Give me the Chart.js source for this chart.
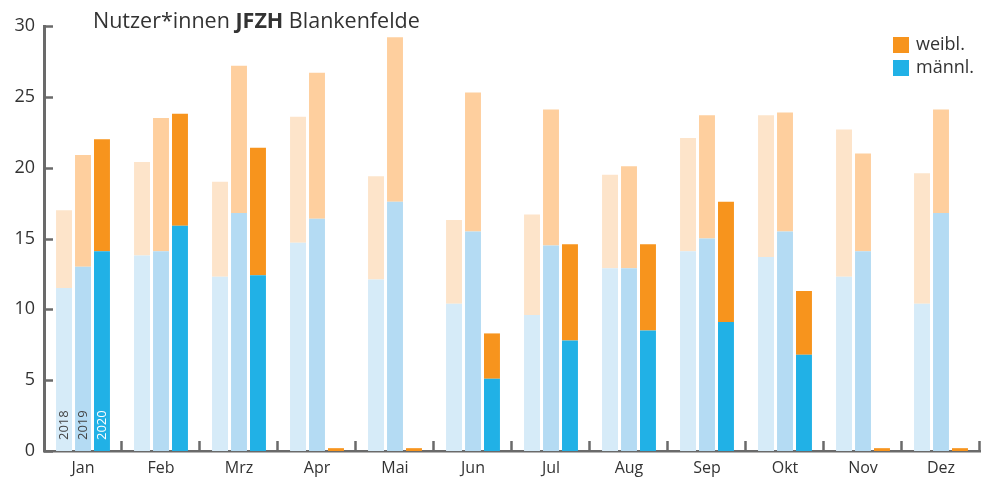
<!DOCTYPE html>
<html><head><meta charset="utf-8">
<script src="https://cdn.jsdelivr.net/npm/chart.js@4"></script>
<style>html,body{margin:0;padding:0;background:#fff}#w{width:982px;height:482px}</style>
</head><body><div id="w"><canvas id="c"></canvas></div>
<script>
const months = ['Jan','Feb','Mrz','Apr','Mai','Jun','Jul','Aug','Sep','Okt','Nov','Dez'];
const years = ['2018','2019','2020'];
const yTicks = [0,5,10,15,20,25,30];
// männlich
const m2018 = [11.5,13.8,12.3,14.7,12.1,10.4,9.6,12.9,14.1,13.7,12.3,10.4];
const m2019 = [13.0,14.1,16.8,16.4,17.6,15.5,14.5,12.9,15.0,15.5,14.1,16.8];
const m2020 = [14.1,15.9,12.4,0,0,5.1,7.8,8.5,9.1,6.8,0,0];
// weiblich
const w2018 = [5.5,6.6,6.7,8.9,7.3,5.9,7.1,6.6,8.0,10.0,10.4,9.2];
const w2019 = [7.9,9.4,10.4,10.3,11.6,9.8,9.6,7.2,8.7,8.4,6.9,7.3];
const w2020 = [7.9,7.9,9.0,0.2,0.2,3.2,6.8,6.1,8.5,4.5,0.2,0.2];

const colors = {
  m2018:'#d6ebf8', w2018:'#fde4ca',
  m2019:'#b4dbf3', w2019:'#fecf9e',
  m2020:'#21b1e6', w2020:'#f7941d'
};
const AX = '#6a6a6a';
const TXT = '#333333';
const FONT = "'Open Sans', sans-serif";

const ds = (data, stack, color) => ({data, stack, backgroundColor:color, borderWidth:0,
  categoryPercentage:0.73, barPercentage:0.84});

const deco = {
  id:'deco',
  afterDraw(chart){
    const {ctx, chartArea:a, scales:{x,y}} = chart;
    ctx.save();
    ctx.strokeStyle = AX; ctx.lineWidth = 2.5;
    yTicks.forEach(v=>{
      const py = Math.round(y.getPixelForValue(v))+0.5;
      ctx.beginPath(); ctx.moveTo(a.left, py); ctx.lineTo(a.left+9, py); ctx.stroke();
    });
    const n = months.length, cw = (a.right-a.left)/n;
    for(let i=1;i<=n;i++){
      const px = Math.round(a.left + i*cw) - 0.5;
      ctx.beginPath(); ctx.moveTo(px, a.bottom); ctx.lineTo(px, a.bottom-10); ctx.stroke();
    }
    ctx.fillStyle = TXT; ctx.textBaseline = 'alphabetic'; ctx.textAlign='left';
    let tx = 93; const ty = 28;
    const parts = [['Nutzer*innen ','400'],['JFZH','700'],[' Blankenfelde','400']];
    parts.forEach(([t,wt])=>{ ctx.font = wt+" 21.5px "+FONT; ctx.fillText(t,tx,ty); tx += ctx.measureText(t).width; });
    const leg = [['weibl.',colors.w2020,37],['männl.',colors.m2020,60]];
    ctx.font = "400 18px "+FONT; ctx.textBaseline='middle';
    leg.forEach(([t,c,ly])=>{ ctx.fillStyle=c; ctx.fillRect(893,ly,16,16); ctx.fillStyle=TXT; ctx.fillText(t,916,ly+8); });
    const idx = [0,2,4];
    const tcol = ['#444','#444','#ffffff'];
    ctx.font = "400 13px "+FONT; ctx.textBaseline='middle'; ctx.textAlign='left';
    idx.forEach((di,k)=>{
      const bar = chart.getDatasetMeta(di).data[0];
      ctx.save();
      ctx.translate(bar.x+0.5, a.bottom-11);
      ctx.rotate(-Math.PI/2);
      ctx.fillStyle = tcol[k];
      ctx.fillText(years[k],0,0);
      ctx.restore();
    });
    ctx.restore();
  }
};

new Chart(document.getElementById('c'), {
  type:'bar',
  data:{labels:months, datasets:[
    ds(m2018,'2018',colors.m2018), ds(w2018,'2018',colors.w2018),
    ds(m2019,'2019',colors.m2019), ds(w2019,'2019',colors.w2019),
    ds(m2020,'2020',colors.m2020), ds(w2020,'2020',colors.w2020)
  ]},
  options:{
    responsive:true, maintainAspectRatio:false, animation:false,
    layout:{padding:{top:26,right:2,left:0,bottom:0}},
    plugins:{legend:{display:false},tooltip:{enabled:false},title:{display:false}},
    scales:{
      x:{stacked:true, grid:{display:false, drawTicks:false},
        border:{display:true,color:AX,width:2.5},
        ticks:{color:TXT,font:{family:FONT,size:16},padding:8},
        afterFit(s){s.height=31;}},
      y:{stacked:true, min:0, max:30, grid:{display:false, drawTicks:false},
        border:{display:true,color:AX,width:3},
        ticks:{stepSize:5,color:TXT,font:{family:FONT,size:18},padding:9},
        afterFit(s){s.width=44;}}
    }
  },
  plugins:[deco]
});
</script></body></html>
